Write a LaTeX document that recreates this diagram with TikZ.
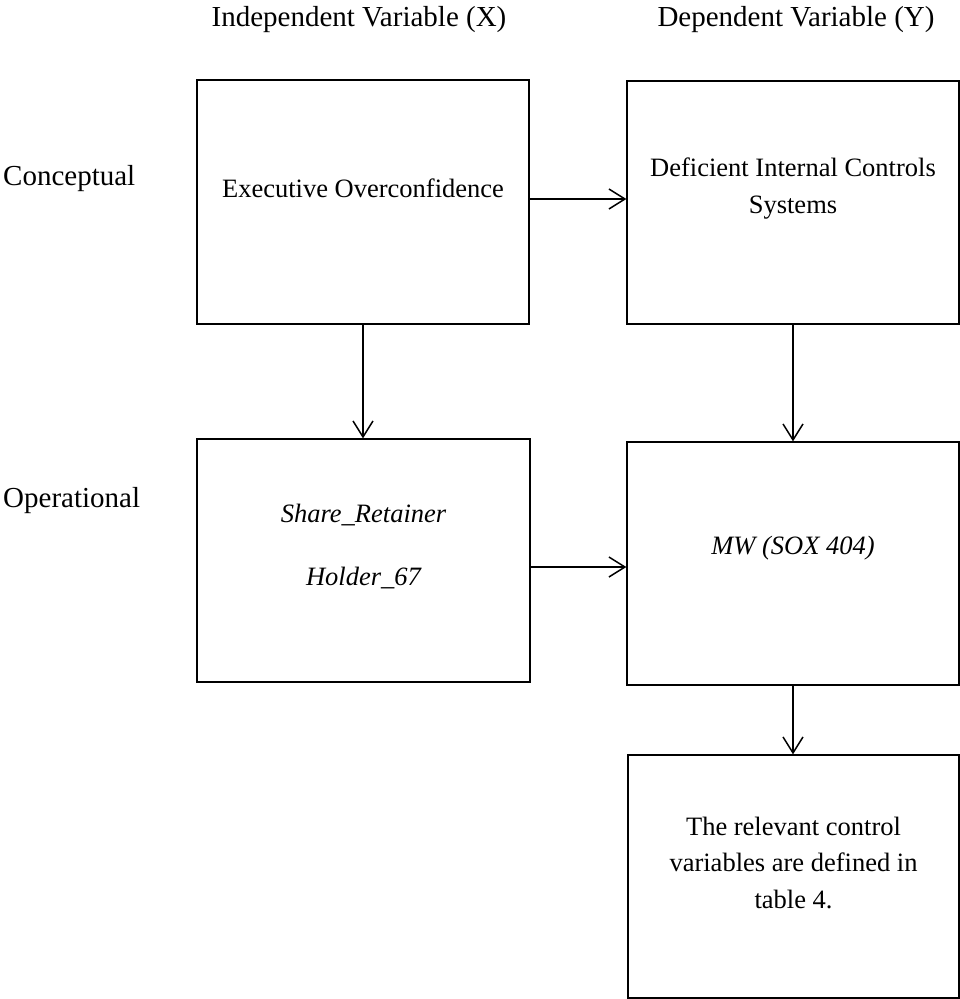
\documentclass[tikz,border=0pt]{standalone}
\usepackage{fontspec}
\setmainfont{Liberation Serif}
\usetikzlibrary{arrows.meta}
\begin{document}
\begin{tikzpicture}[x=1pt,y=-1pt,
  box/.style={draw, line width=1.3pt, rectangle, inner sep=0pt, minimum width=332pt, minimum height=244pt},
  lbl/.style={font=\fontsize{26.5}{36.5}\selectfont, align=center, inner sep=0pt},
  side/.style={font=\fontsize{29}{36}\selectfont, inner sep=0pt},
  arr/.style={draw, line width=1.5pt, -{Straight Barb[length=16pt, width=20pt, line width=1.5pt]}}]
\useasboundingbox (0,0) rectangle (960,999);
% headers
\node[side, anchor=base] (hx) at (359,26) {Independent Variable (X)};
\node[side, anchor=base] (hy) at (796,26) {Dependent Variable (Y)};
\node[side, anchor=base west] (conc) at (3,185) {Conceptual};
\node[side, anchor=base west] (oper) at (3,507) {Operational};
% boxes
\node[box] (b1) at (363,202) {};
\node[box, minimum height=243pt] (b2) at (793,202.5) {};
\node[box, minimum width=333pt, minimum height=243pt] (b3) at (363.5,560.5) {};
\node[box, minimum height=243pt] (b4) at (793,563.5) {};
\node[box, minimum width=331pt, minimum height=243pt] (b5) at (793.5,876.5) {};
% texts
\node[lbl] (t1) at (363,188) {Executive Overconfidence};
\node[lbl] (t2) at (793,188.5) {Deficient Internal Controls\\Systems};
\node[lbl, font=\fontsize{26.5}{63}\selectfont\itshape] (t3) at (363.5,546.5) {Share\_Retainer\\Holder\_67};
\node[lbl, font=\fontsize{26.5}{36.5}\selectfont\itshape] (t4) at (793,548) {MW (SOX 404)};
\node[lbl] (t5) at (793.5,862.5) {The relevant control\\variables are defined in\\table 4.};
% arrows
\draw[arr] ([yshift=3pt]b1.east) -- ([yshift=3.5pt]b2.west);
\draw[arr] (b1.south) -- (b3.north -| b1.south);
\draw[arr] (b2.south) -- (b4.north);
\draw[arr] ([yshift=-6.5pt]b3.east) -- ([yshift=-3.5pt]b4.west);
\draw[arr] (b4.south) -- (b5.north -| b4.south);
\end{tikzpicture}
\end{document}
